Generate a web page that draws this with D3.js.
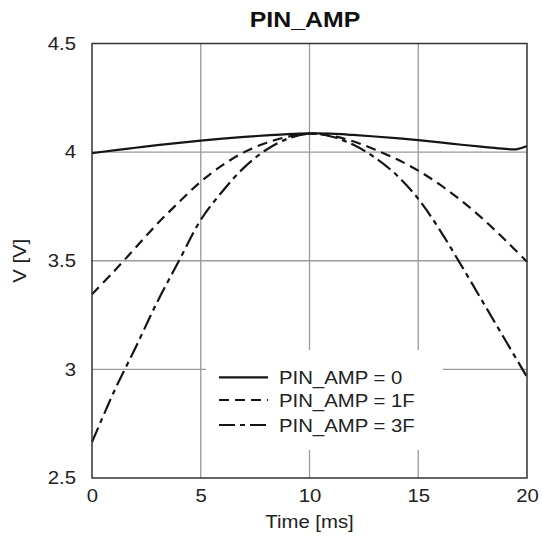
<!DOCTYPE html>
<html>
<head>
<meta charset="utf-8">
<script src="https://cdn.jsdelivr.net/npm/d3@7"></script>
<style>
  html, body { margin: 0; padding: 0; background: #fff; }
  svg { display: block; font-family: "Liberation Sans", Arial, sans-serif; }
</style>
</head>
<body>
<svg id="chart" width="542" height="538"></svg>
<script>
// ---- data ----
const chartTitle = "PIN_AMP";
const xLabel = "Time [ms]";
const yLabel = "V [V]";
const xTicks = [0, 5, 10, 15, 20];
const yTicks = [2.5, 3, 3.5, 4, 4.5];
const seriesNames = ["PIN_AMP = 0", "PIN_AMP = 1F", "PIN_AMP = 3F"];

const timeS = [0, 1, 2, 3, 4, 5, 6, 7, 8, 9, 10, 11, 12, 13, 14, 15, 16, 17, 18, 19, 19.5, 20];
const vAmp0 = [3.995, 4.008, 4.020, 4.032, 4.043, 4.053, 4.062, 4.070, 4.077, 4.083, 4.086, 4.085, 4.079, 4.072, 4.064, 4.055, 4.045, 4.034, 4.024, 4.015, 4.013, 4.028];

const timeD = [0, 1, 2, 3, 4, 5, 6, 7, 8, 9, 10, 11, 12, 13, 14, 15, 16, 17, 18, 19, 20];
const vAmp1F = [3.346, 3.450, 3.560, 3.670, 3.770, 3.864, 3.940, 4.000, 4.042, 4.071, 4.085, 4.075, 4.050, 4.012, 3.968, 3.915, 3.850, 3.775, 3.690, 3.595, 3.495];
const vAmp3F = [2.665, 2.895, 3.100, 3.310, 3.500, 3.688, 3.820, 3.930, 4.010, 4.062, 4.085, 4.072, 4.035, 3.975, 3.895, 3.785, 3.640, 3.475, 3.305, 3.135, 2.965];

// ---- layout ----
const margin = { left: 92, top: 43.5, right: 15, bottom: 60 };
const plotW = 527 - margin.left, plotH = 478 - margin.top;
const SX = 1.13; // horizontal text stretch

const svg = d3.select("#chart");
const g = svg.append("g").attr("transform", `translate(${margin.left},${margin.top})`);

const x = d3.scaleLinear().domain([0, 20]).range([0, plotW]);
const y = d3.scaleLinear().domain([2.5, 4.5]).range([plotH, 0]);

// grid
g.append("g").selectAll("line").data(xTicks.filter(t => t > 0 && t < 20)).join("line")
  .attr("x1", d => x(d)).attr("x2", d => x(d)).attr("y1", 0).attr("y2", plotH)
  .attr("stroke", "#9a9a9a").attr("stroke-width", 1.3);
g.append("g").selectAll("line").data(yTicks.filter(t => t > 2.5 && t < 4.5)).join("line")
  .attr("x1", 0).attr("x2", plotW).attr("y1", d => y(d)).attr("y2", d => y(d))
  .attr("stroke", "#9a9a9a").attr("stroke-width", 1.3);

// curves
const series = [
  { name: seriesNames[0], t: timeS, v: vAmp0, dash: null },
  { name: seriesNames[1], t: timeD, v: vAmp1F, dash: "10,6" },
  { name: seriesNames[2], t: timeD, v: vAmp3F, dash: "16,5,5,5" }
];
const line = d3.line().x(d => x(d[0])).y(d => y(d[1])).curve(d3.curveCatmullRom.alpha(0.5));
series.forEach(s => {
  g.append("path")
    .datum(s.t.map((t, i) => [t, s.v[i]]))
    .attr("d", line)
    .attr("fill", "none")
    .attr("stroke", "#151515")
    .attr("stroke-width", 2.2)
    .attr("stroke-dasharray", s.dash);
});

// legend (white box, no border)
const lg = g.append("g").attr("transform", `translate(${206 - margin.left},${350 - margin.top})`);
lg.append("rect").attr("width", 237).attr("height", 100).attr("fill", "#fff");
const rowsY = [27.3, 50, 75];
series.forEach((s, i) => {
  lg.append("line").attr("x1", 13).attr("x2", 62).attr("y1", rowsY[i]).attr("y2", rowsY[i])
    .attr("stroke", "#151515").attr("stroke-width", 2.2).attr("stroke-dasharray", s.dash);
  lg.append("text")
    .attr("transform", `translate(73,${rowsY[i] + 6.5}) scale(${SX},1)`)
    .attr("font-size", 18).attr("fill", "#222").text(s.name);
});

// frame
g.append("rect").attr("width", plotW).attr("height", plotH)
  .attr("fill", "none").attr("stroke", "#333").attr("stroke-width", 1.5);

// axes
const xAxis = g.append("g").attr("transform", `translate(0,${plotH})`)
  .call(d3.axisBottom(x).tickValues(xTicks).tickSize(0).tickPadding(11).tickFormat(d => String(d)));
const yAxis = g.append("g")
  .call(d3.axisLeft(y).tickValues(yTicks).tickSize(0).tickPadding(16).tickFormat(d => String(d)));
[xAxis, yAxis].forEach(a => {
  a.select(".domain").remove();
  a.selectAll("text").attr("font-size", 18).attr("fill", "#222")
    .attr("font-family", "Liberation Sans, Arial, sans-serif")
    .each(function () {
      const el = d3.select(this);
      const xv = +el.attr("x") || 0;
      el.attr("x", xv / SX).attr("transform", `scale(${SX},1)`);
    });
});

// title
svg.append("text")
  .attr("transform", `translate(305,27) scale(${SX},1)`)
  .attr("text-anchor", "middle").attr("font-size", 22).attr("font-weight", "bold").attr("fill", "#111")
  .text(chartTitle);

// x label
svg.append("text")
  .attr("transform", `translate(${margin.left + plotW / 2},528) scale(${SX},1)`)
  .attr("text-anchor", "middle").attr("font-size", 18).attr("fill", "#222")
  .text(xLabel);

// y label
svg.append("text")
  .attr("transform", `translate(26,${margin.top + plotH / 2}) rotate(-90) scale(${SX},1)`)
  .attr("text-anchor", "middle").attr("font-size", 18).attr("fill", "#222")
  .text(yLabel);
</script>
</body>
</html>
